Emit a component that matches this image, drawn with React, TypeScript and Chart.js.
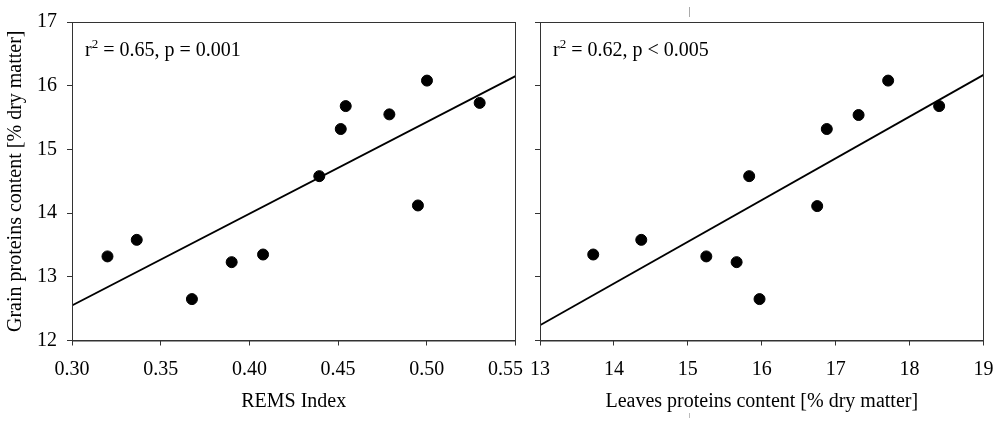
import { useEffect, useRef } from 'react';
import { Chart, registerables } from 'chart.js';
import type { ChartOptions, Plugin } from 'chart.js';

Chart.register(...registerables);

// Left panel: REMS index vs grain proteins
const remsIndex = [0.320, 0.3365, 0.3676, 0.390, 0.4077, 0.4394, 0.4515, 0.4543, 0.4789, 0.4950, 0.5001, 0.5298];
const grainByRems = [13.32, 13.58, 12.65, 13.23, 13.35, 14.58, 15.32, 15.68, 15.55, 14.12, 16.08, 15.73];
const remsFitX = [0.30, 0.55];
const remsFitY = [12.55, 16.15];
const remsTicks = [0.30, 0.35, 0.40, 0.45, 0.50, 0.55];

// Right panel: leaves proteins vs grain proteins
const leavesProteins = [13.72, 14.37, 15.25, 15.66, 15.97, 15.83, 16.75, 16.88, 17.31, 17.71, 18.40];
const grainByLeaves = [13.35, 13.58, 13.32, 13.23, 12.65, 14.58, 14.11, 15.32, 15.54, 16.08, 15.68];
const leavesFitX = [13, 19];
const leavesFitY = [12.24, 16.17];
const leavesTicks = [13, 14, 15, 16, 17, 18, 19];

const grainTicks = [12, 13, 14, 15, 16, 17];

const FONT = 'Liberation Serif';
const AXIS_COLOR = '#333';

// box around the plot area + the r²/p text in the top left corner
const framePlugin: Plugin = {
    id: 'frame',
    afterDraw(chart, _args, opts: any) {
        const { ctx, chartArea } = chart;
        ctx.save();
        ctx.strokeStyle = AXIS_COLOR;
        ctx.lineWidth = 1;
        ctx.strokeRect(chartArea.left + 0.5, chartArea.top + 0.5, chartArea.width - 0.5, chartArea.height);

        const x = chartArea.left + 13;
        const y = chartArea.top + 34;
        ctx.fillStyle = '#000';
        ctx.textBaseline = 'alphabetic';
        ctx.font = `20px "${FONT}"`;
        ctx.fillText('r', x, y);
        let w = ctx.measureText('r').width;
        ctx.font = `13px "${FONT}"`;
        ctx.fillText('2', x + w, y - 8);
        w += ctx.measureText('2').width;
        ctx.font = `20px "${FONT}"`;
        ctx.fillText(opts.text, x + w, y);
        ctx.restore();
    },
};

type PanelProps = {
    xs: number[];
    ys: number[];
    fitX: number[];
    fitY: number[];
    xTicks: number[];
    xMin: number;
    xMax: number;
    xDecimals: number;
    xTitle: string;
    yTitle?: string;
    stats: string;
    width: number;
    axisWidth: number;
    padRight: number;
    lastLabelPad?: string;
};

const Panel: React.FC<PanelProps> = (p) => {
    const chartRef = useRef<HTMLCanvasElement | null>(null);

    useEffect(() => {
        const ctx = chartRef.current?.getContext('2d');
        if (!ctx) return;

        const font = { family: FONT, size: 20 };

        const options: ChartOptions<'scatter'> = {
            responsive: false,
            maintainAspectRatio: false,
            animation: false,
            layout: { padding: { left: 0, top: 22, right: p.padRight, bottom: 0 } },
            plugins: {
                legend: { display: false },
                tooltip: { enabled: false },
                // @ts-ignore
                frame: { text: p.stats },
            },
            scales: {
                x: {
                    type: 'linear',
                    min: p.xMin,
                    max: p.xMax,
                    afterBuildTicks: (scale) => {
                        scale.ticks = p.xTicks.map((v) => ({ value: v }));
                    },
                    afterFit: (scale) => {
                        scale.height = 425 - 340.5;
                    },
                    grid: { drawOnChartArea: false, drawTicks: true, tickLength: 5, color: AXIS_COLOR },
                    border: { display: true, color: AXIS_COLOR },
                    ticks: {
                        color: '#000',
                        font,
                        padding: 12,
                        maxRotation: 0,
                        autoSkip: false,
                        callback: (v) => {
                            const s = Number(v).toFixed(p.xDecimals);
                            return Number(v) === p.xMax && p.lastLabelPad ? s + p.lastLabelPad : s;
                        },
                    },
                    title: { display: true, text: p.xTitle, color: '#000', font, padding: { top: 0, bottom: 11 } },
                },
                y: {
                    type: 'linear',
                    min: 12,
                    max: 17,
                    afterBuildTicks: (scale) => {
                        scale.ticks = grainTicks.map((v) => ({ value: v }));
                    },
                    afterFit: (scale) => {
                        scale.width = p.axisWidth;
                    },
                    grid: { drawOnChartArea: false, drawTicks: true, tickLength: 5, color: AXIS_COLOR },
                    border: { display: true, color: AXIS_COLOR },
                    ticks: {
                        color: '#000',
                        font,
                        padding: 10,
                        callback: (v) => (p.yTitle ? String(v) : ''),
                    },
                    title: {
                        display: !!p.yTitle,
                        text: p.yTitle ?? '',
                        color: '#000',
                        font,
                        padding: { top: 4, bottom: 0 },
                    },
                },
            },
        };

        const chartInstance = new Chart(ctx, {
            type: 'scatter',
            data: {
                datasets: [
                    {
                        data: p.xs.map((x, i) => ({ x, y: p.ys[i] })),
                        backgroundColor: '#000',
                        borderColor: '#000',
                        pointRadius: 5.5,
                    },
                    {
                        data: p.fitX.map((x, i) => ({ x, y: p.fitY[i] })),
                        showLine: true,
                        pointRadius: 0,
                        borderColor: '#000',
                        borderWidth: 1.8,
                    },
                ],
            },
            options,
            plugins: [framePlugin],
        });

        return () => {
            chartInstance.destroy();
        };
    }, [p]);

    return <canvas ref={chartRef} width={p.width} height={425} style={{ width: p.width, height: 425, display: 'block' }}></canvas>;
};

const App = () => {
    return (
        <div style={{ position: 'fixed', left: 0, top: 0, width: 1000, height: 425, background: '#fff', overflow: 'hidden' }}>
            <div style={{ position: 'absolute', left: 0, top: 0 }}>
                <Panel
                    xs={remsIndex}
                    ys={grainByRems}
                    fitX={remsFitX}
                    fitY={remsFitY}
                    xTicks={remsTicks}
                    xMin={0.3}
                    xMax={0.55}
                    xDecimals={2}
                    xTitle="REMS Index"
                    yTitle="Grain proteins content [% dry matter]"
                    stats=" = 0.65, p = 0.001"
                    width={580}
                    axisWidth={72}
                    padRight={580 - 515.5}
                    lastLabelPad={'    '}
                />
            </div>
            <div style={{ position: 'absolute', left: 500, top: 0 }}>
                <Panel
                    xs={leavesProteins}
                    ys={grainByLeaves}
                    fitX={leavesFitX}
                    fitY={leavesFitY}
                    xTicks={leavesTicks}
                    xMin={13}
                    xMax={19}
                    xDecimals={0}
                    xTitle="Leaves proteins content [% dry matter]"
                    stats=" = 0.62, p < 0.005"
                    width={540}
                    axisWidth={40}
                    padRight={540 - 483.5}
                />
            </div>
            <div style={{ position: 'absolute', left: 689, top: 7, width: 1, height: 10, background: '#aaa' }} />
            <div style={{ position: 'absolute', left: 689, top: 413, width: 1, height: 5, background: '#bbb' }} />
        </div>
    );
};

export default App;
